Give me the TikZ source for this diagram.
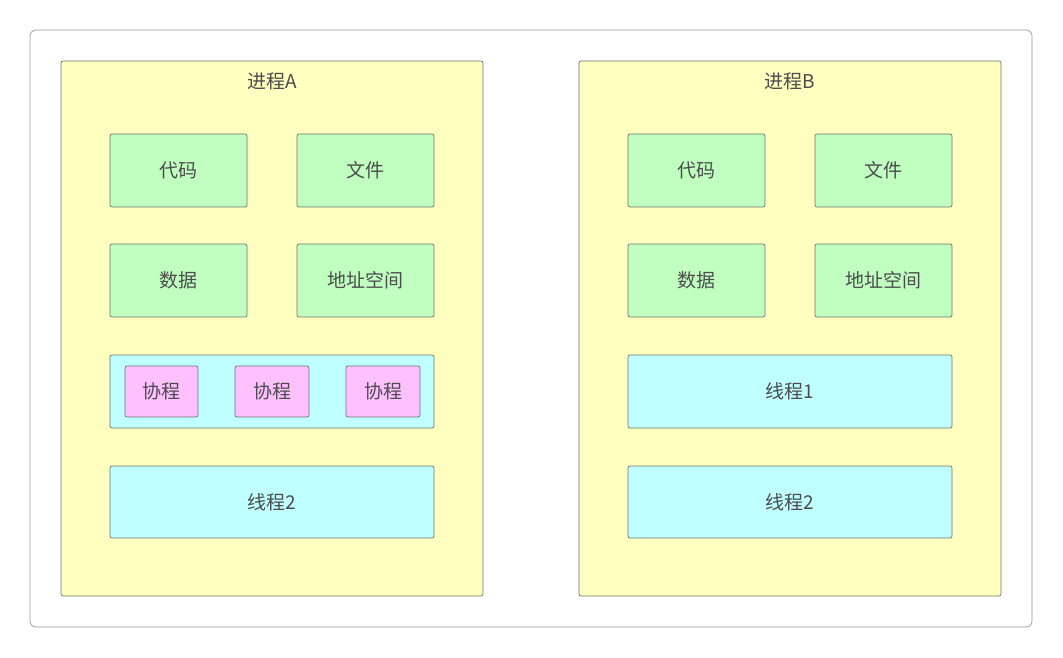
\documentclass[tikz,border=0pt]{standalone}
\usepackage{fontspec}
\setmainfont{Noto Sans CJK SC}
\definecolor{cy}{HTML}{C0FFFF}
\definecolor{gr}{HTML}{C0FFC0}
\definecolor{pk}{HTML}{FFC0FF}
\definecolor{ye}{HTML}{FFFFC0}
\begin{document}
\begin{tikzpicture}[x=1pt,y=-1pt,
  bx/.style={draw=black!55,rounded corners=2pt,line width=0.7pt},
  proc/.style={bx,fill=ye},
  grn/.style={bx,fill=gr},
  cyn/.style={bx,fill=cy},
  pnk/.style={bx,fill=pk},
  lbl/.style={text=black!70,font=\fontsize{19}{22}\selectfont}]
\useasboundingbox (0,0) rectangle (1063,658);
\draw[draw=black!40,rounded corners=6pt,fill=white,line width=0.7pt] (30,30) rectangle (1032,627);
\foreach \ox/\n/\t in {0/A/A,518/B/B}{
 \begin{scope}[xshift=\ox]
 \draw[proc] (61,61) rectangle (483,596);
 \node[lbl] (t\n) at (272,81) {进程\t};
 \draw[grn] (110,134) rectangle node[lbl] (c\n) {代码} (247,207);
 \draw[grn] (297,134) rectangle node[lbl] (f\n) {文件} (434,207);
 \draw[grn] (110,244) rectangle node[lbl] (d\n) {数据} (247,317);
 \draw[grn] (297,244) rectangle node[lbl] (s\n) {地址空间} (434,317);
 \draw[cyn] (110,466) rectangle node[lbl] (tt\n) {线程2} (434,538);
 \end{scope}}
\draw[cyn] (110,355) rectangle (434,428);
\draw[pnk] (125,366) rectangle node[lbl] (p1) {协程} (198,417);
\draw[pnk] (235,366) rectangle node[lbl] (p2) {协程} (309,417);
\draw[pnk] (346,366) rectangle node[lbl] (p3) {协程} (420,417);
\draw[cyn] (628,355) rectangle node[lbl] (t1B) {线程1} (952,428);
\end{tikzpicture}
\end{document}
